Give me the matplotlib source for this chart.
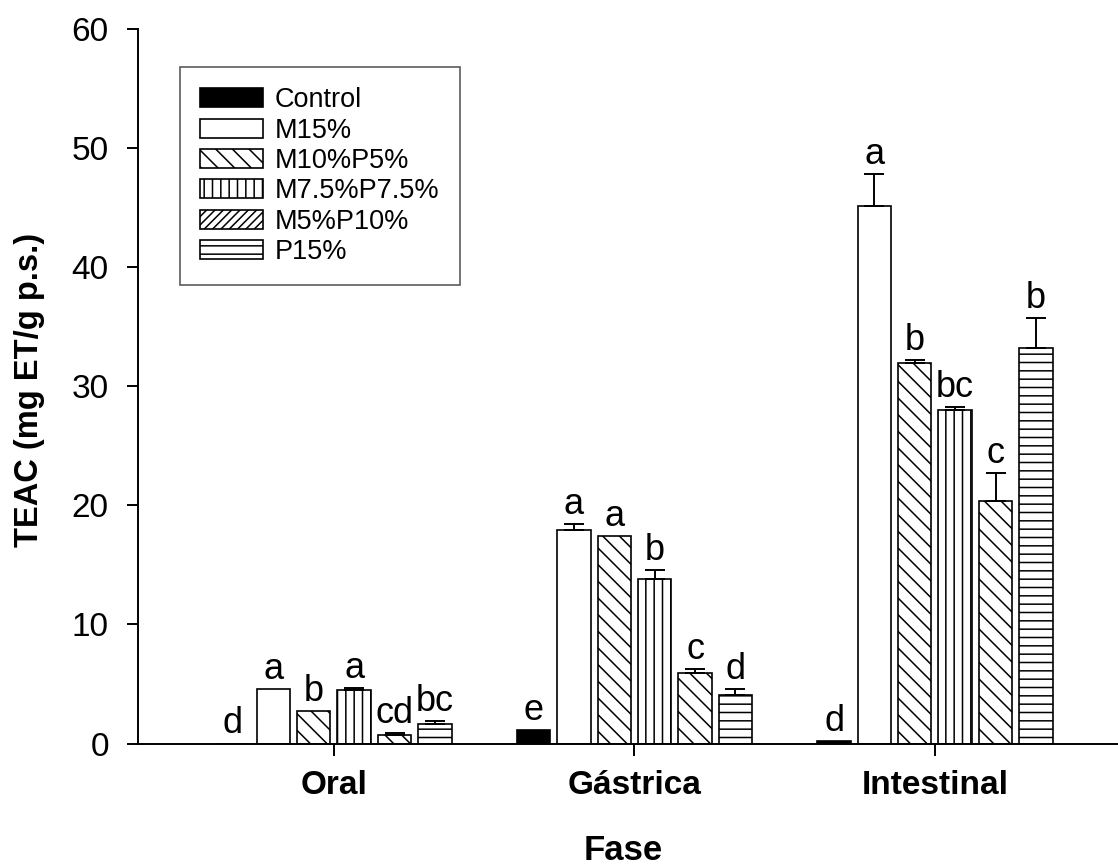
import numpy as np
import matplotlib
matplotlib.use("Agg")
import matplotlib.pyplot as plt
from matplotlib.patches import Patch

plt.rcParams['font.family'] = ['Liberation Sans', 'DejaVu Sans']
plt.rcParams['hatch.linewidth'] = 1.1
plt.rcParams['hatch.color'] = 'black'

# Digestion phases and treatments
phases = ['Oral', 'Gástrica', 'Intestinal']
treatments = ['Control', 'M15%', 'M10%P5%', 'M7.5%P7.5%', 'M5%P10%', 'P15%']

# TEAC means (mg ET/g p.s.) per treatment, ordered Oral, Gástrica, Intestinal
control = [0.0, 1.15, 0.2]
m15 = [4.6, 17.9, 45.1]
m10p5 = [2.75, 17.4, 31.95]
m75p75 = [4.5, 13.85, 28.0]
m5p10 = [0.75, 5.95, 20.4]
p15 = [1.6, 4.1, 33.25]

# Standard deviations (upper error bars)
control_sd = [0.0, 0.0, 0.0]
m15_sd = [0.0, 0.55, 2.7]
m10p5_sd = [0.0, 0.0, 0.25]
m75p75_sd = [0.15, 0.7, 0.25]
m5p10_sd = [0.12, 0.3, 2.3]
p15_sd = [0.28, 0.5, 2.5]

# Significance letters
control_lbl = ['d', 'e', 'd']
m15_lbl = ['a', 'a', 'a']
m10p5_lbl = ['b', 'a', 'b']
m75p75_lbl = ['a', 'b', 'bc']
m5p10_lbl = ['cd', 'c', 'c']
p15_lbl = ['bc', 'd', 'b']

means = [control, m15, m10p5, m75p75, m5p10, p15]
sds = [control_sd, m15_sd, m10p5_sd, m75p75_sd, m5p10_sd, p15_sd]
letters = [control_lbl, m15_lbl, m10p5_lbl, m75p75_lbl, m5p10_lbl, p15_lbl]

fills = ['black', 'white', 'white', 'white', 'white', 'white']
bar_hatches = [None, None, '\\\\', '||', '\\\\', '--']
legend_hatches = [None, None, '\\\\', '||', '////', '--']

fig = plt.figure(figsize=(11.18, 8.65), dpi=100)
ax = fig.add_axes([138 / 1118, 1 - 743.5 / 865, 1 - 138 / 1118, (743.5 - 29) / 865])

x = np.arange(len(phases))
step = 0.1344
width = 0.111

for i, name in enumerate(treatments):
    xi = x + (i - 2.5) * step
    ax.bar(xi, means[i], width, color=fills[i], edgecolor='black',
           linewidth=1.2, hatch=bar_hatches[i], zorder=2)
    sd = np.array(sds[i])
    m = np.array(means[i])
    has = sd > 0
    if has.any():
        ax.errorbar(xi[has], m[has], yerr=[np.zeros(has.sum()), sd[has]],
                    fmt='none', ecolor='black', elinewidth=1.4,
                    capsize=7.5, capthick=1.4, zorder=3)
    for j in range(len(phases)):
        ax.annotate(letters[i][j], (xi[j], m[j] + sd[j]),
                    xytext=(0, 1.5), textcoords='offset points',
                    ha='center', va='bottom', fontsize=26)

ax.set_xlim(-0.652, 2.609)
ax.set_ylim(0, 60)
ax.set_yticks(np.arange(0, 61, 10))
ax.set_xticks(x)
ax.set_xticklabels(phases, fontsize=24, fontweight='bold')
ax.tick_params(axis='y', labelsize=24, length=8, width=1.4, pad=13, direction='out')
ax.tick_params(axis='x', length=8.5, width=1.4, pad=10.5, direction='out')
for s in ['top', 'right']:
    ax.spines[s].set_visible(False)
for s in ['left', 'bottom']:
    ax.spines[s].set_linewidth(1.4)

fig.text(30 / 1118, 1 - 390 / 865, 'TEAC (mg ET/g p.s.)', rotation=90,
         ha='center', va='center', fontsize=23.5, fontweight='bold')
fig.text(623 / 1118, 1 - 850 / 865, 'Fase', ha='center', va='center',
         fontsize=25, fontweight='bold')

handles = [Patch(facecolor=fills[i], edgecolor='black', linewidth=1.2,
                 hatch=legend_hatches[i], label=treatments[i])
           for i in range(len(treatments))]
leg = fig.legend(handles=handles, loc='upper left',
                 bbox_to_anchor=(180 / 1118, 1 - 67 / 865),
                 fontsize=19.5, frameon=True, fancybox=False, shadow=False,
                 handlelength=2.3, handleheight=0.7, handletextpad=0.45,
                 labelspacing=0.16, borderpad=0.75, borderaxespad=0)
leg.get_frame().set_edgecolor('#333333')
leg.get_frame().set_linewidth(1.2)

fig.savefig('out.png', dpi=100)
